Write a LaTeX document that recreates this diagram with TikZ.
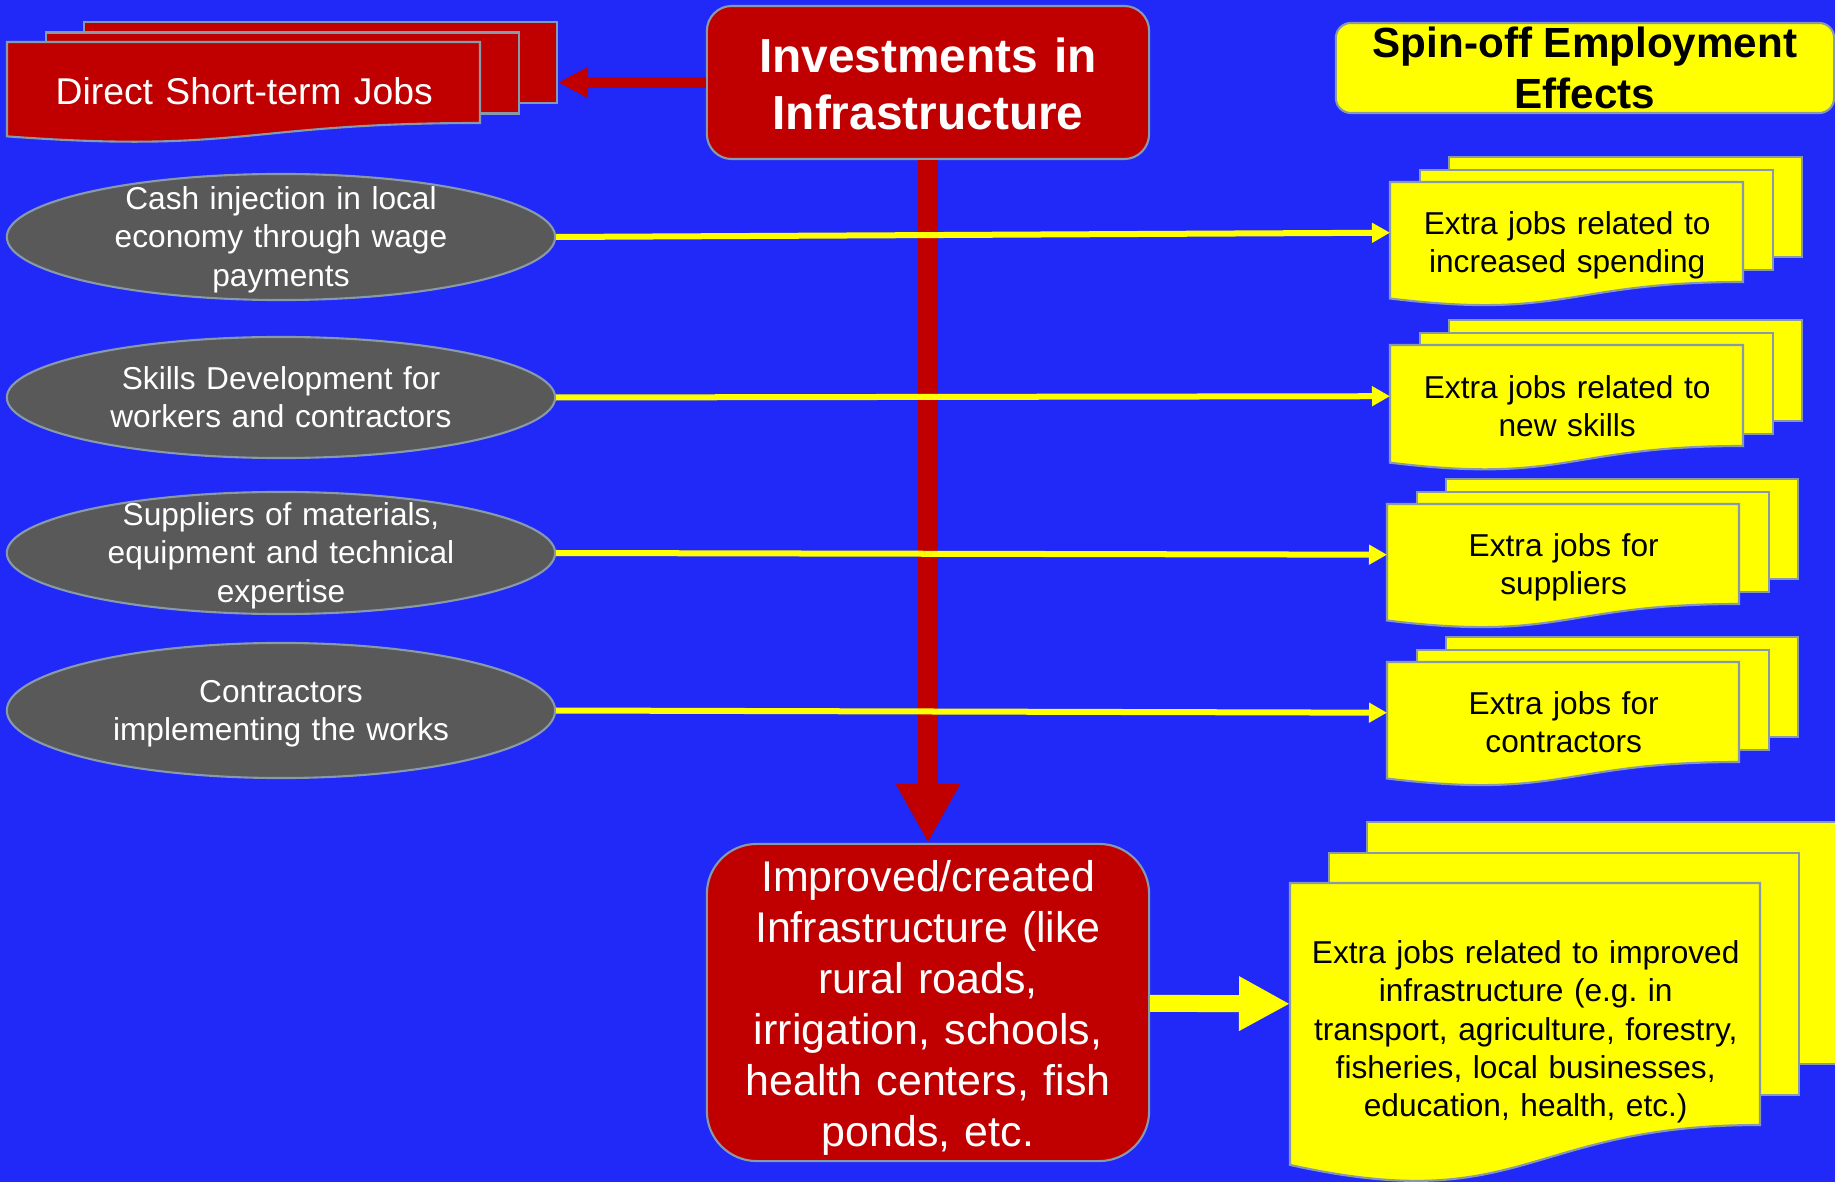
\documentclass[tikz,border=0pt]{standalone}
\usepackage{fontspec}
\setmainfont{Liberation Sans}
\usepackage{xcolor}
\usepackage{tikz}
\usetikzlibrary{shapes.geometric, arrows.meta, positioning}
\frenchspacing

\definecolor{slideblue}{RGB}{33,41,248}
\definecolor{darkred}{RGB}{192,0,0}
\definecolor{effect}{RGB}{255,255,0}
\definecolor{causegrey}{RGB}{89,89,89}
\definecolor{edge}{RGB}{136,153,170}

% line box of the slide font (ascent and descent)
\newcommand{\linestrut}{\rule[-0.212em]{0pt}{1.117em}}

\tikzstyle{paper}     = [draw=edge, line width=0.6pt]
\tikzstyle{sheet}     = [rectangle, anchor=north west, inner sep=0pt]
\tikzstyle{struts}    = [execute at begin node=\linestrut, execute at end node=\linestrut]
\tikzstyle{reddoc}    = [fill=darkred, text=white, font=\fontsize{10.6}{12.7}\selectfont]
\tikzstyle{yellowdoc} = [fill=effect, text=black]
\tikzstyle{doctext}   = [struts, inner sep=0pt, text width=4.5cm, font=\fontsize{9}{10.9}\selectfont]
\tikzstyle{redbox}    = [rectangle, paper, fill=darkred, text=white, inner sep=0pt, text width=4.2cm,
                         execute at begin node={\rule{0pt}{1em}}, execute at end node=\linestrut]
\tikzstyle{titlebox}  = [rectangle, rounded corners=0.15cm, paper, fill=effect, inner sep=0pt, font=\fontsize{12}{14.3}\selectfont\bfseries]
\tikzstyle{cause}     = [ellipse, paper, struts, fill=causegrey, text=white, inner sep=-4mm, text width=3.6cm, minimum width=5.48cm, font=\fontsize{9}{10.9}\selectfont]
\tikzstyle{redarrow}  = [draw=darkred, line width=0.1cm, -{Triangle[width=0.29cm, length=0.3cm]}]
\tikzstyle{downarrow} = [draw=darkred, line width=0.2cm, -{Triangle[width=0.6cm, length=0.59cm]}]
\tikzstyle{bigarrow}  = [draw=effect, line width=0.17cm, -{Triangle[width=0.51cm, length=0.51cm]}]
\tikzstyle{thinarrow} = [draw=effect, line width=0.06cm, -{Triangle[width=0.19cm, length=0.18cm]}]
\tikzset{every node/.style={align=center}}

% stack of three sheets: name, colour style, left, top, width, height, dx, dy, text
\newcommand{\stackdoc}[9]{%
  \node[sheet, paper, #2, minimum width=#5*0.01cm, minimum height=#6*0.01cm] (#1-b2) at (#3+2*#7, #4-2*#8) {};
  \node[sheet, paper, #2, minimum width=#5*0.01cm, minimum height=#6*0.01cm] (#1-b1) at (#3+#7, #4-#8) {};
  \draw[paper, #2] (#3,#4) -- (#3+#5,#4) -- (#3+#5,#4+#6)
    .. controls (#3+0.5*#5,#4+#6) and (#3+0.5*#5,#4+1.38*#6) .. (#3,#4+1.165*#6) -- cycle;
  \node[sheet, minimum width=#5*0.01cm, minimum height=#6*0.01cm] (#1) at (#3,#4) {};
  \node[doctext, #2, fill=none] (#1-text) at ([yshift={-#6*0.001cm}]#1.center) {#9};
}

\begin{document}
\begin{tikzpicture}[x=0.01cm, y=-0.01cm]
    \fill[slideblue] (0,0) rectangle (1835,1182);
    \useasboundingbox (0,0) rectangle (1835,1182);

    % centre column
    \node[redbox, rounded corners=0.25cm, minimum width=4.42cm, minimum height=1.53cm,
          font=\fontsize{13.6}{16.3}\selectfont\bfseries] (invest) at (928,82.5) {Investments in\\Infrastructure};
    \node[redbox, rounded corners=0.5cm, minimum width=4.42cm, minimum height=3.17cm,
          font=\fontsize{12.2}{14.5}\selectfont] (built) at (928,1002.5)
          {Improved/created\\Infrastructure (like\\rural roads,\\irrigation, schools,\\health centers, fish\\ponds, etc.};

    % left column
    \stackdoc{direct}{reddoc}{7}{42}{473}{81}{38}{10.5}{Direct Short-term Jobs}
    \node[cause, minimum height=1.26cm] (cash)        at (281,237)   {Cash injection in local\\economy through wage\\payments};
    \node[cause, minimum height=1.21cm] (skills)      at (281,397.5) {Skills Development for\\workers and contractors};
    \node[cause, minimum height=1.22cm] (suppliers)   at (281,553)   {Suppliers of materials,\\equipment and technical\\expertise};
    \node[cause, minimum height=1.35cm] (contractors) at (281,710.5) {Contractors\\implementing the works};

    % right column
    \node[titlebox, minimum width=4.98cm, minimum height=0.9cm] (spinoff) at (1585,68) {Spin-off Employment\\Effects};
    \stackdoc{spendjobs}{yellowdoc}{1390}{182}{353}{100}{29}{13}{Extra jobs related to\\increased spending}
    \stackdoc{skilljobs}{yellowdoc}{1390}{345}{353}{101}{29}{13}{Extra jobs related to\\new skills}
    \stackdoc{supplyjobs}{yellowdoc}{1387}{504}{352}{100}{29}{13}{Extra jobs for\\suppliers}
    \stackdoc{contractjobs}{yellowdoc}{1387}{662}{352}{100}{29}{13}{Extra jobs for\\contractors}
    \stackdoc{infrajobs}{yellowdoc}{1290}{883}{470}{242}{38}{31}{Extra jobs related to improved\\infrastructure (e.g. in\\transport, agriculture, forestry,\\fisheries, local businesses,\\education, health, etc.)}

    % connectors
    \draw[redarrow]  (invest) -- (invest.west -| direct-b2.east);
    \draw[downarrow] (invest) -- (built);
    \draw[bigarrow]  (built) -- (infrajobs);
    \draw[thinarrow] (cash.east)        -- (spendjobs.west);
    \draw[thinarrow] (skills.east)      -- (skilljobs.west);
    \draw[thinarrow] (suppliers.east)   -- (supplyjobs.west);
    \draw[thinarrow] (contractors.east) -- (contractjobs.west);
\end{tikzpicture}
\end{document}
